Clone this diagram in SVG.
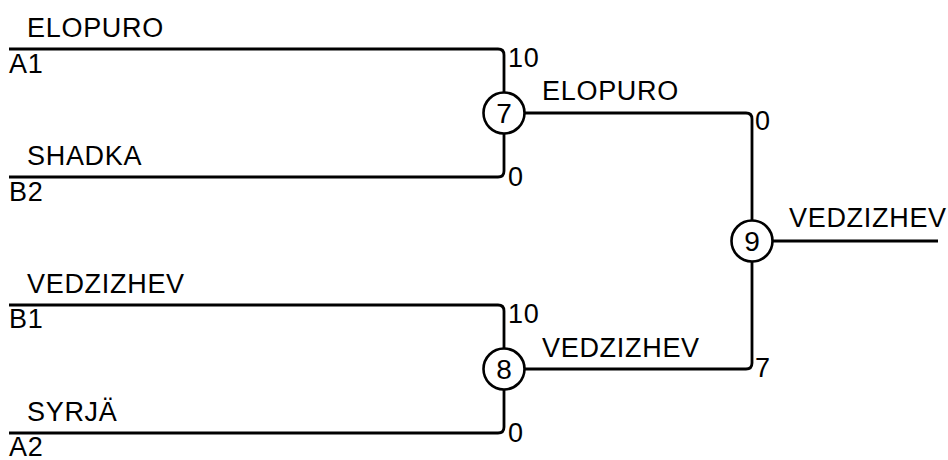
<svg xmlns="http://www.w3.org/2000/svg" width="948" height="460" viewBox="0 0 948 460">
<style>
text{font-family:"Liberation Sans",Arial,sans-serif;font-size:27px;fill:#000;letter-spacing:0.7px}
.c{text-anchor:middle;letter-spacing:0;font-size:28px}
.ln{fill:none;stroke:#000;stroke-width:2.8}
circle{fill:#fff;stroke:#000;stroke-width:2.6}
</style>
<rect width="948" height="460" fill="#fff"/>
<g id="connectors">
<path class="ln" d="M9,49 H498 Q504,49 504,55 V92"/>
<path class="ln" d="M9,177 H498 Q504,177 504,171 V134"/>
<path class="ln" d="M9,305 H498 Q504,305 504,311 V348"/>
<path class="ln" d="M9,433 H498 Q504,433 504,427 V390"/>
<path class="ln" d="M525,113 H746 Q752,113 752,119 V220"/>
<path class="ln" d="M525,369 H746 Q752,369 752,363 V262"/>
<path class="ln" d="M773,241 H938"/>
</g>
<g id="A1"><text x="27" y="37">ELOPURO</text><text x="9" y="73">A1</text></g>
<g id="B2"><text x="27" y="165">SHADKA</text><text x="9" y="201">B2</text></g>
<g id="B1"><text x="27" y="293">VEDZIZHEV</text><text x="9" y="328">B1</text></g>
<g id="A2"><text x="27" y="421">SYRJÄ</text><text x="9" y="456">A2</text></g>
<g id="n7"><circle cx="504" cy="113" r="20.5"/><text class="c" x="504" y="123">7</text>
<text x="508" y="67">10</text><text x="508" y="186">0</text><text x="542" y="100">ELOPURO</text></g>
<g id="n8"><circle cx="504" cy="369" r="20.5"/><text class="c" x="504" y="379">8</text>
<text x="508" y="323">10</text><text x="508" y="442">0</text><text x="542" y="357">VEDZIZHEV</text></g>
<g id="n9"><circle cx="752" cy="241" r="20.5"/><text class="c" x="752" y="251">9</text>
<text x="755" y="130">0</text><text x="755" y="377">7</text><text x="789" y="227">VEDZIZHEV</text></g>
</svg>
